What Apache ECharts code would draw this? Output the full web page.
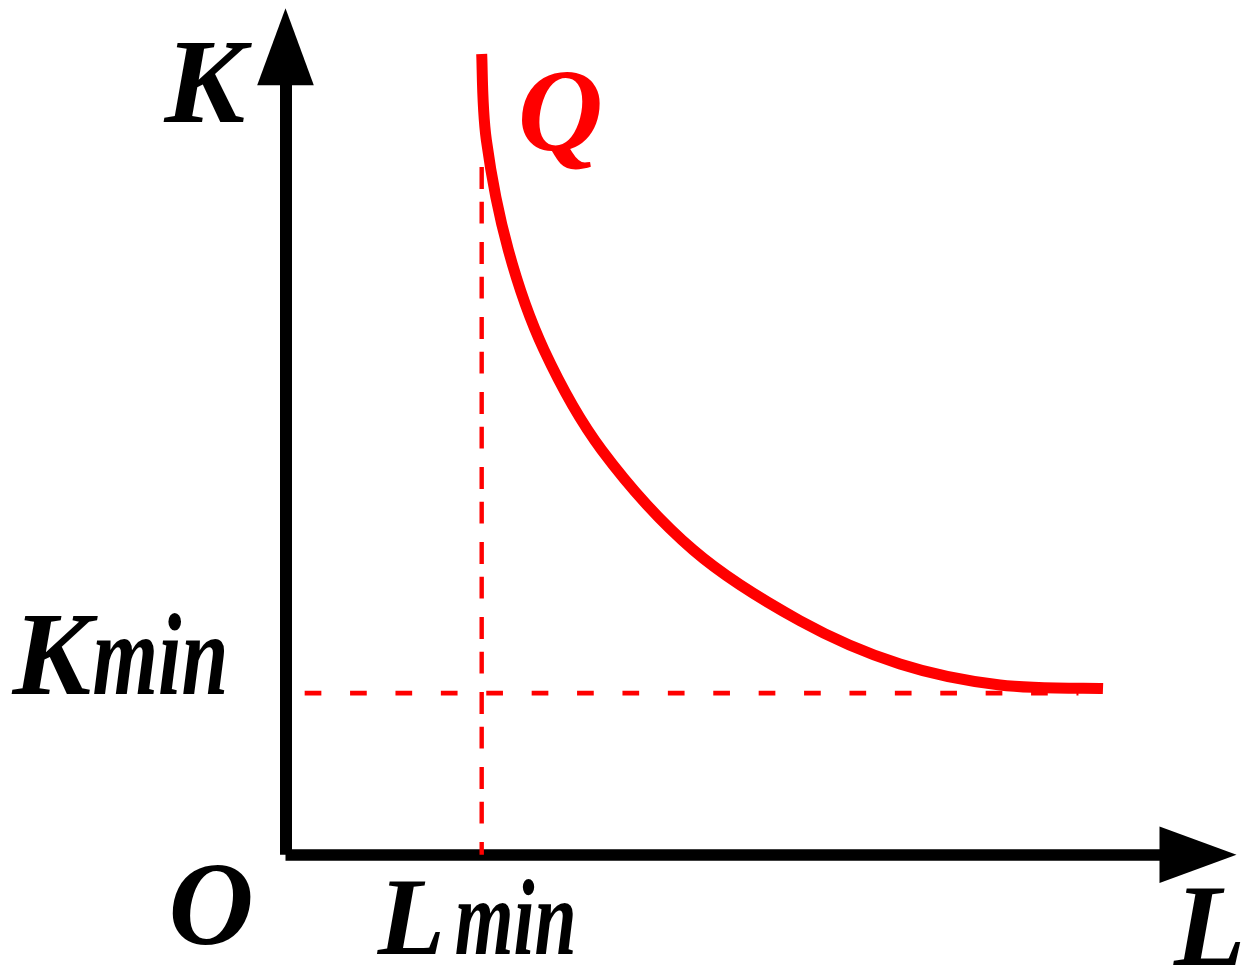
<!DOCTYPE html>
<html>
<head>
<meta charset="utf-8">
<script src="https://cdn.jsdelivr.net/npm/echarts@6/dist/echarts.min.js"></script>
<style>
  html, body { margin: 0; padding: 0; background: #fff; }
  #chart { width: 1245px; height: 971px; }
</style>
</head>
<body>
<div id="chart"></div>
<script>
// Isoquant Q in the labour (L) / capital (K) plane, both axes on a 0–100 scale.
const curveL = [21.50, 22.01, 24.42, 28.33, 34.65, 44.69, 56.38, 67.34, 78.30, 89.59];
const curveK = [99.10, 88.45, 74.83, 62.46, 50.09, 37.71, 28.96, 23.60, 21.00, 20.56];

// Minimum input levels and the extent of their guide lines
const L_MIN = 21.5;
const K_MIN = 20.0;
const lMinGuideK = [85.1, 0];      // vertical guide at L_MIN, from top down to the L axis
const kMinGuideL = [2.1, 86.9];    // horizontal guide at K_MIN

// Text
const xAxisName = 'L';
const yAxisName = 'K';
const originName = 'O';
const curveName = 'Q';
const lMinLabel = ['L', 'min'];
const kMinLabel = ['K', 'min'];

const RED = '#ff0000';
const FONT = '"Liberation Serif", "Times New Roman", serif';

const chart = echarts.init(document.getElementById('chart'), null, { renderer: 'canvas' });

function axisCommon(width) {
  return {
    type: 'value', min: 0, max: 100,
    axisLine: {
      show: true, onZero: true,
      symbol: ['none', 'triangle'],
      symbolSize: [56.6, 77],
      lineStyle: { color: '#000', width: width, cap: 'butt' }
    },
    axisTick: { show: false },
    axisLabel: { show: false },
    splitLine: { show: false }
  };
}

// Smooth isoquant: a Catmull-Rom spline through the points, written as one cubic Bézier path
// whose nodes come from the grid's own coordinate conversion.
function renderIsoquant(params, api) {
  if (params.dataIndex !== 0) return null;
  const pts = curveL.map((l, i) => api.coord([l, curveK[i]]));
  const n = pts.length;
  const f = v => v.toFixed(2);
  let d = 'M' + f(pts[0][0]) + ',' + f(pts[0][1]);
  for (let i = 0; i < n - 1; i++) {
    const p0 = pts[i - 1] || pts[i];
    const p1 = pts[i];
    const p2 = pts[i + 1];
    const p3 = pts[i + 2] || pts[i + 1];
    d += ' C' + f(p1[0] + (p2[0] - p0[0]) / 6) + ',' + f(p1[1] + (p2[1] - p0[1]) / 6)
       + ' ' + f(p2[0] - (p3[0] - p1[0]) / 6) + ',' + f(p2[1] - (p3[1] - p1[1]) / 6)
       + ' ' + f(p2[0]) + ',' + f(p2[1]);
  }
  return {
    type: 'path',
    shape: { pathData: d },
    style: { stroke: RED, lineWidth: 11, fill: null, lineCap: 'butt', lineJoin: 'round' }
  };
}

chart.setOption({
  animation: false,
  backgroundColor: '#fff',
  grid: { left: 285.5, right: 47, top: 46.7, bottom: 116.3, containLabel: false },
  xAxis: axisCommon(11.5),
  yAxis: axisCommon(12),
  series: [
    {
      name: 'Kmin guide', type: 'line', symbol: 'none', silent: true, z: 2,
      data: kMinGuideL.map(l => [l, K_MIN]),
      lineStyle: { color: RED, width: 4.6, type: [16.7, 28.7], cap: 'butt' }
    },
    {
      name: 'Lmin guide', type: 'line', symbol: 'none', silent: true, z: 2,
      data: lMinGuideK.map(k => [L_MIN, k]),
      lineStyle: { color: RED, width: 4.4, type: [21.8, 12.8, 21.8, 18.6], cap: 'butt' }
    },
    {
      name: curveName, type: 'custom', coordinateSystem: 'cartesian2d', silent: true, z: 3,
      data: curveL.map((l, i) => [l, curveK[i]]),
      encode: { x: 0, y: 1 },
      renderItem: renderIsoquant
    }
  ]
});

// Labels, anchored to the axes and the guide values through the grid's coordinate system
const px = v => chart.convertToPixel({ gridIndex: 0 }, v);
const origin = px([0, 0]);
const yEnd = px([0, 100]);
const xEnd = px([100, 0]);
const lMinPt = px([L_MIN, 0]);
const kMinPt = px([0, K_MIN]);
const qPt = px([curveL[0], curveK[0]]);

// baseline is the text's alphabetic baseline; shifted to the em-box middle for drawing
function label(text, x, baseline, size, color, sx) {
  return {
    type: 'text', x: x, y: baseline - 0.262 * size, scaleX: sx || 1, z: 10, silent: true,
    style: {
      text: text, x: 0, y: 0, fill: color,
      fontFamily: FONT, fontSize: size, fontWeight: 'bold', fontStyle: 'italic',
      align: 'left', verticalAlign: 'middle', textAlign: 'left', textVerticalAlign: 'middle'
    }
  };
}

chart.setOption({
  graphic: [
    label(yAxisName, origin[0] - 121, yEnd[1] + 76, 121, '#000'),
    label(xAxisName, xEnd[0] - 24, origin[1] + 111, 117, '#000'),
    label(originName, origin[0] - 117, origin[1] + 90, 118, '#000'),
    label(curveName, qPt[0] + 36, qPt[1] + 96, 118, RED),
    label(kMinLabel[0], origin[0] - 273, kMinPt[1] + 1.5, 118, '#000'),
    label(kMinLabel[1], origin[0] - 193, kMinPt[1] + 1.5, 117, '#000', 0.72),
    label(lMinLabel[0], lMinPt[0] - 104, origin[1] + 99.6, 110, '#000'),
    label(lMinLabel[1], lMinPt[0] - 27, origin[1] + 99.6, 108, '#000', 0.70)
  ]
});
</script>
</body>
</html>
